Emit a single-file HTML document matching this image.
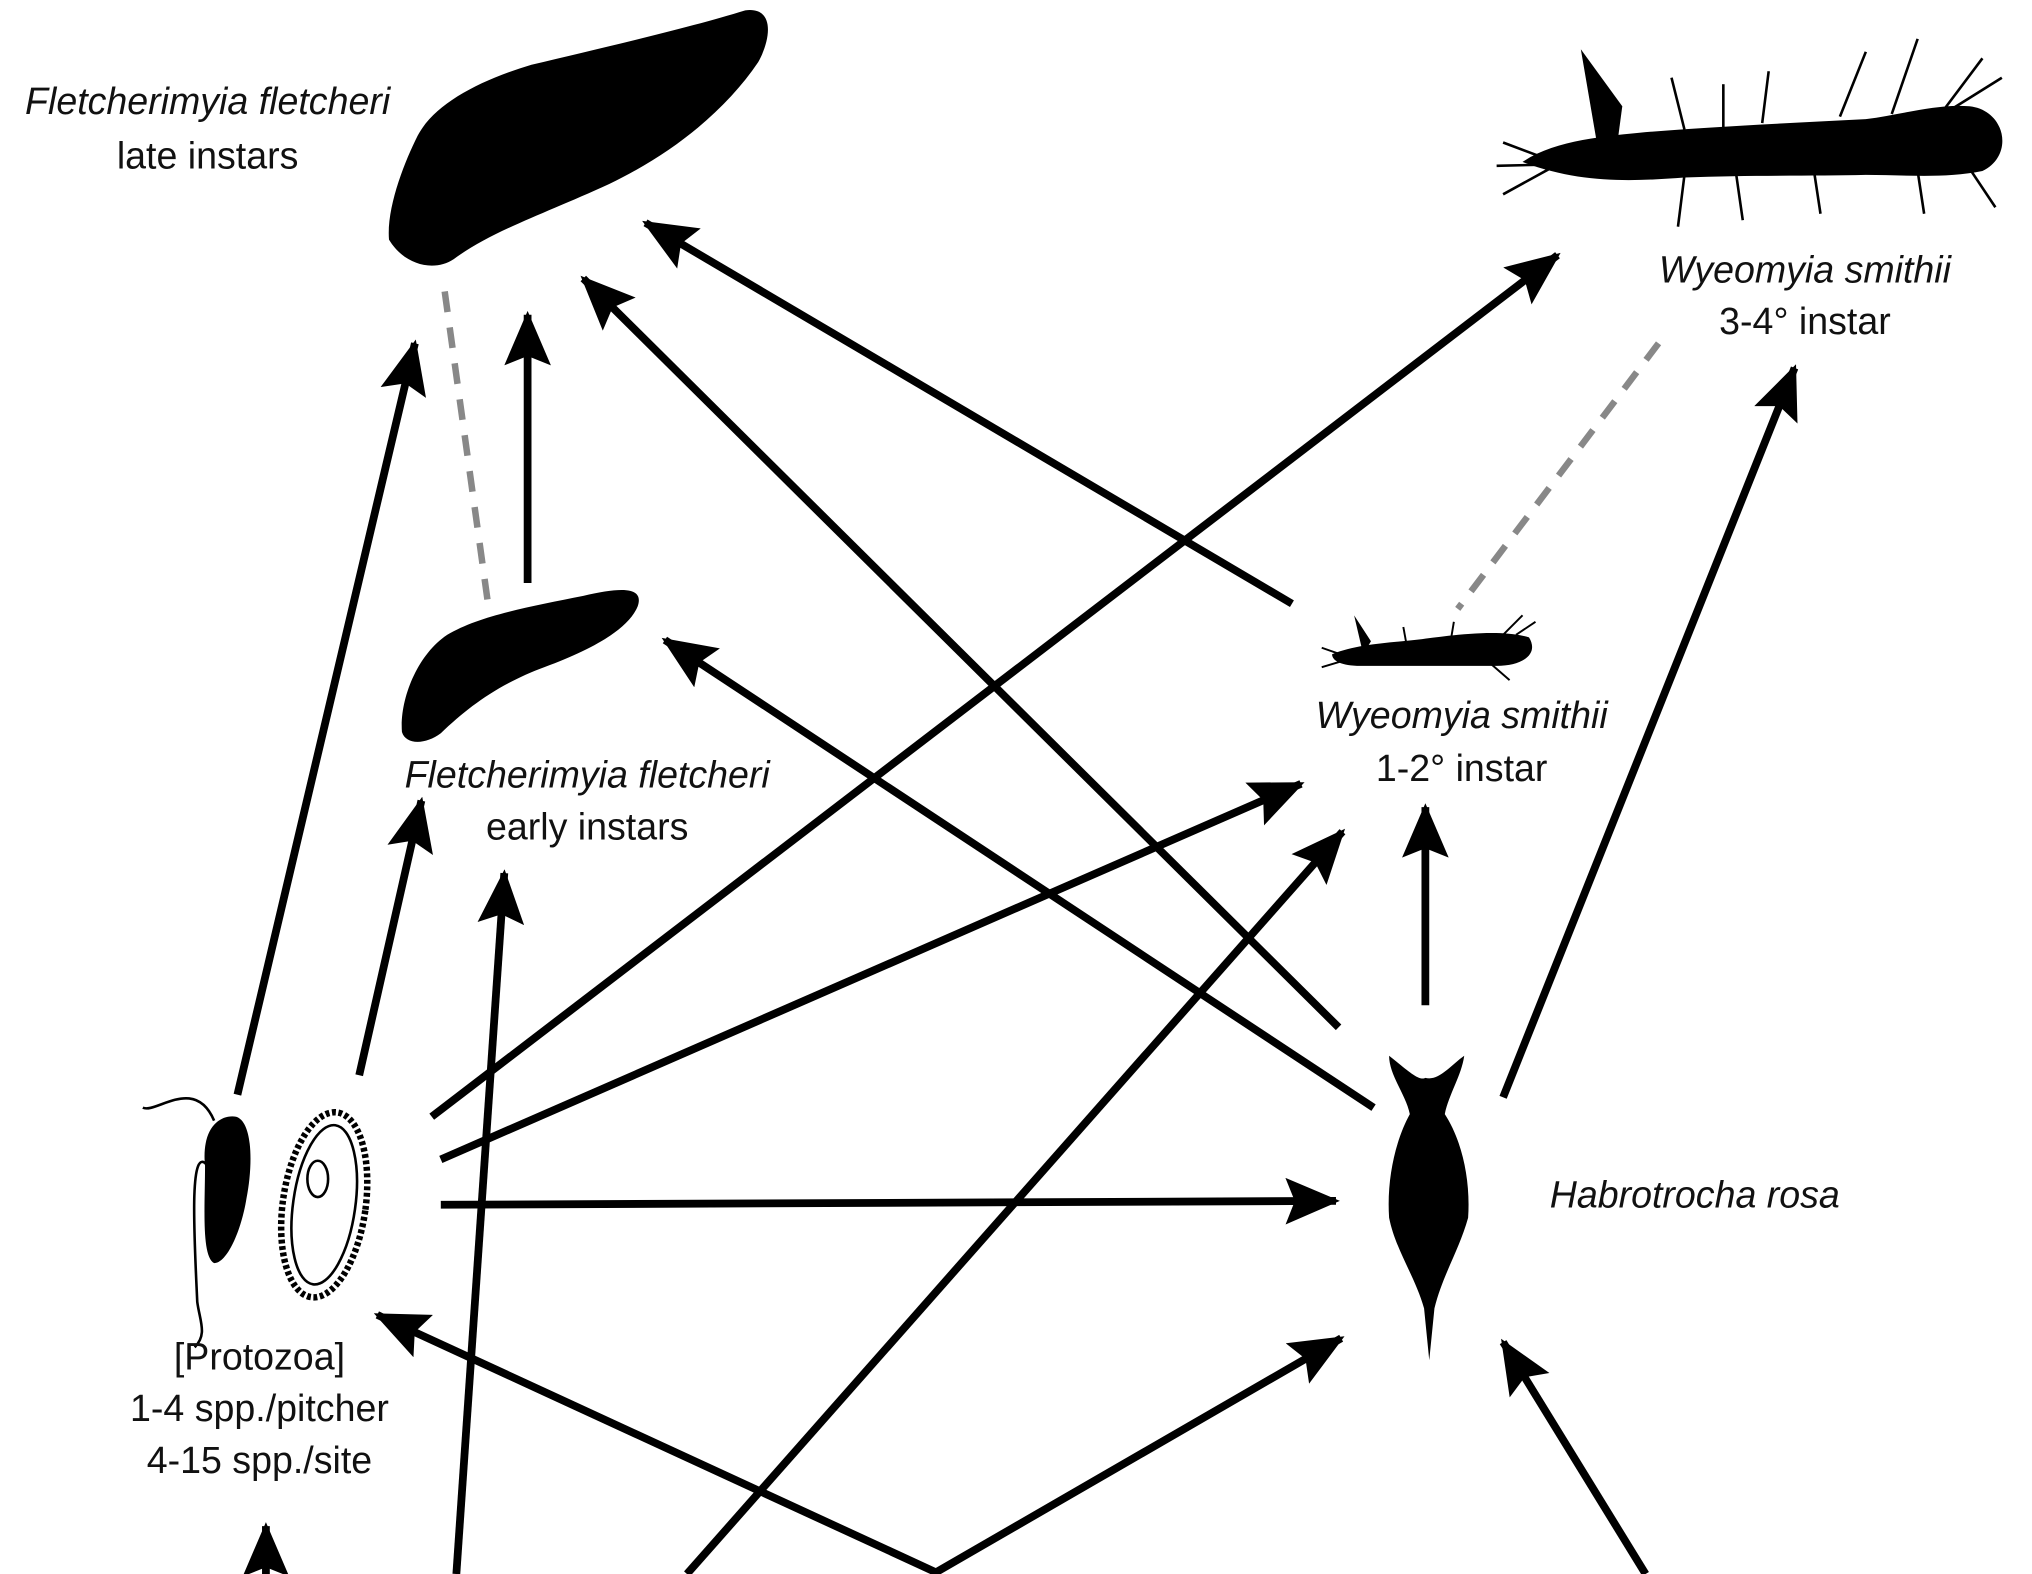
<!DOCTYPE html>
<html><head><meta charset="utf-8"><style>
html,body{margin:0;padding:0;background:#fff;}
svg{display:block;}
text{font-family:"Liberation Sans",sans-serif;font-size:29px;fill:#111;}
.it{font-style:italic;}
</style></head><body>
<svg width="2032" height="1574" viewBox="0 0 1568 1215" xmlns="http://www.w3.org/2000/svg">
<defs>
<marker id="ah" markerWidth="7" markerHeight="6" refX="6.5" refY="3" orient="auto" markerUnits="strokeWidth">
<path d="M0,0 L7,3 L0,6 L1.2,3 Z" fill="#000"/>
</marker>
</defs>
<rect width="1568" height="1215" fill="#fff"/>

<g stroke="#888" stroke-width="5" stroke-dasharray="16,12" fill="none">
<line x1="343" y1="225" x2="377" y2="470"/>
<line x1="1280" y1="265" x2="1125" y2="470"/>
</g>

<g stroke="#000" stroke-width="6" fill="none" marker-end="url(#ah)">
<line x1="183" y1="845" x2="320" y2="265"/>
<line x1="277" y1="830" x2="325" y2="618"/>
<line x1="407" y1="450" x2="407" y2="243"/>
<line x1="997" y1="466" x2="498" y2="172"/>
<line x1="1033" y1="793" x2="450" y2="215"/>
<line x1="1060" y1="855" x2="513" y2="494"/>
<line x1="333" y1="862" x2="1202" y2="197"/>
<line x1="340" y1="895" x2="1004" y2="605"/>
<line x1="340" y1="930" x2="1031" y2="927"/>
<line x1="352" y1="1215" x2="389" y2="674"/>
<line x1="530" y1="1215" x2="1036" y2="642"/>
<line x1="1100" y1="776" x2="1100" y2="623"/>
<line x1="1160" y1="847" x2="1385" y2="284"/>
<line x1="720" y1="1215" x2="1035" y2="1033"/>
<line x1="725" y1="1215" x2="291" y2="1015"/>
<line x1="1270" y1="1215" x2="1160" y2="1036"/>
<line x1="205" y1="1218" x2="205" y2="1178"/>
</g>

<path fill="#000" d="M300,185 C298,160 312,125 322,105 C335,80 370,62 410,50 C460,38 530,22 575,8 C598,5 595,30 585,48 C560,85 520,118 470,142 C420,165 380,178 350,200 C335,210 312,205 300,185 Z"/>
<path fill="#000" d="M310,565 C308,540 322,505 345,490 C370,475 410,468 450,460 C480,453 497,453 492,468 C485,485 460,500 420,515 C385,528 362,545 340,566 C328,575 313,575 310,565 Z"/>
<g>
<path fill="#000" d="M1175,125 C1200,108 1240,105 1270,102 C1320,98 1380,95 1440,92 C1470,88 1495,80 1520,82 C1548,85 1555,120 1530,132 C1500,138 1470,135 1440,135 C1400,136 1350,135 1300,137 C1260,140 1220,142 1175,125 Z"/>
<path fill="#000" d="M1220,38 L1252,82 L1248,112 L1232,108 Z"/>
<g stroke="#000" stroke-width="2">
<line x1="1160" y1="110" x2="1200" y2="125"/><line x1="1160" y1="150" x2="1200" y2="128"/><line x1="1155" y1="128" x2="1195" y2="127"/>
<line x1="1300" y1="100" x2="1290" y2="60"/><line x1="1330" y1="100" x2="1330" y2="65"/>
<line x1="1360" y1="95" x2="1365" y2="55"/><line x1="1420" y1="90" x2="1440" y2="40"/>
<line x1="1460" y1="88" x2="1480" y2="30"/><line x1="1500" y1="85" x2="1530" y2="45"/><line x1="1505" y1="85" x2="1545" y2="60"/>
<line x1="1300" y1="135" x2="1295" y2="175"/><line x1="1340" y1="135" x2="1345" y2="170"/>
<line x1="1400" y1="132" x2="1405" y2="165"/><line x1="1480" y1="132" x2="1485" y2="165"/>
<line x1="1520" y1="130" x2="1540" y2="160"/>
</g></g>
<g>
<path fill="#000" d="M1028,505 C1050,496 1080,496 1100,493 C1130,489 1160,486 1180,492 C1188,505 1175,514 1155,514 C1120,514 1080,514 1050,514 C1035,514 1028,510 1028,505 Z"/>
<path fill="#000" d="M1045,475 L1058,495 L1052,505 Z"/>
<g stroke="#000" stroke-width="1.5"><line x1="1020" y1="500" x2="1040" y2="507"/><line x1="1020" y1="515" x2="1040" y2="509"/><line x1="1160" y1="490" x2="1175" y2="475"/><line x1="1170" y1="490" x2="1185" y2="480"/><line x1="1150" y1="512" x2="1165" y2="525"/><line x1="1085" y1="495" x2="1083" y2="484"/><line x1="1120" y1="492" x2="1122" y2="480"/></g>
</g>
<path fill="#000" d="M1072,815 C1085,825 1095,835 1100,832 C1110,835 1120,822 1130,815 C1128,830 1118,845 1115,860 C1128,880 1135,910 1133,940 C1126,965 1113,985 1107,1010 L1103,1050 L1099,1010 C1092,985 1077,965 1072,940 C1070,910 1077,880 1088,860 C1085,845 1072,830 1072,815 Z"/>
<g>
<path fill="#000" d="M158,900 C155,870 170,860 182,862 C195,866 195,900 190,925 C186,950 175,975 165,975 C155,970 158,930 158,900 Z"/>
<path fill="none" stroke="#000" stroke-width="2" d="M165,865 C150,830 120,860 110,855 M160,900 C145,880 150,960 152,1005 C154,1020 160,1030 150,1040"/>
<ellipse cx="250" cy="930" rx="32" ry="72" transform="rotate(8 250 930)" fill="#fff" stroke="#000" stroke-width="5" stroke-dasharray="3,2"/>
<ellipse cx="250" cy="930" rx="24" ry="62" transform="rotate(8 250 930)" fill="none" stroke="#000" stroke-width="2"/>
<ellipse cx="245" cy="910" rx="8" ry="14" fill="none" stroke="#000" stroke-width="2"/>
</g>

<text text-anchor="middle"><tspan class="it" x="160" y="88">Fletcherimyia fletcheri</tspan><tspan x="160" y="130">late instars</tspan></text>
<text text-anchor="middle"><tspan class="it" x="453" y="608">Fletcherimyia fletcheri</tspan><tspan x="453" y="648">early instars</tspan></text>
<text text-anchor="middle"><tspan class="it" x="1393" y="218">Wyeomyia smithii</tspan><tspan x="1393" y="258">3-4° instar</tspan></text>
<text text-anchor="middle"><tspan class="it" x="1128" y="562">Wyeomyia smithii</tspan><tspan x="1128" y="603">1-2° instar</tspan></text>
<text class="it" x="1196" y="932">Habrotrocha rosa</text>
<text text-anchor="middle"><tspan x="200" y="1057">[Protozoa]</tspan><tspan x="200" y="1097">1-4 spp./pitcher</tspan><tspan x="200" y="1137">4-15 spp./site</tspan></text>
</svg>
</body></html>
